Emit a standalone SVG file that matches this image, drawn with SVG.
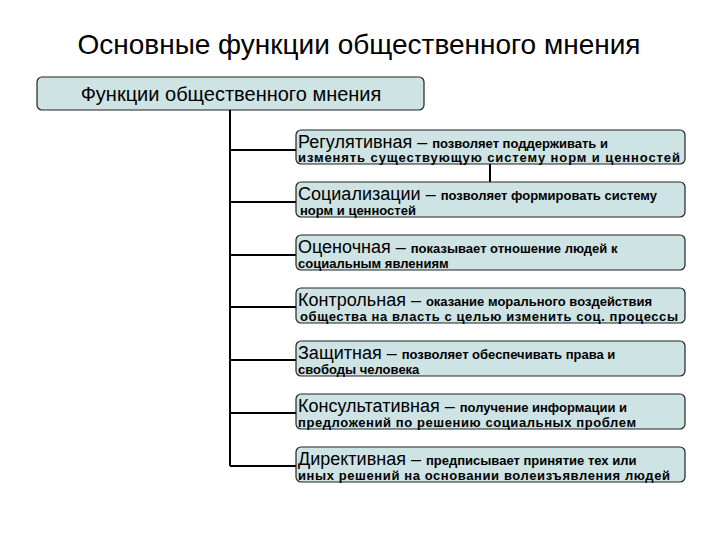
<svg xmlns="http://www.w3.org/2000/svg" width="720" height="540" viewBox="0 0 720 540">
<style>
.box{fill:#cde3e4;stroke:#222;stroke-width:1.2}
.t{font-family:"Liberation Sans",Arial,sans-serif;fill:#000}
.h{font-size:18px}
.s{font-size:13px;font-weight:bold}
.ln{stroke:#000;stroke-width:2;fill:none}
</style>
<rect width="720" height="540" fill="#fff"/>
<text class="t" x="359" y="54" font-size="28" text-anchor="middle">Основные функции общественного мнения</text>
<g id="root"><rect class="box" x="37" y="77" width="387" height="33" rx="5"/>
<text class="t" x="231" y="101" font-size="20" text-anchor="middle">Функции общественного мнения</text></g>
<g id="connectors">
<path class="ln" d="M230 110V466M230 150H296M230 202H296M230 255H296M230 307H296M230 360H296M230 413H296M230 466H296M490 164V182"/>
</g>
<g id="n1"><rect class="box" x="296" y="130" width="389" height="34" rx="5"/>
<text class="t" x="298" y="148"><tspan class="h">Регулятивная – </tspan><tspan class="s">позволяет поддерживать и</tspan></text>
<text class="t s" x="298" y="162" textLength="382">изменять существующую систему норм и ценностей</text></g>
<g id="n2"><rect class="box" x="296" y="182" width="389" height="35" rx="5"/>
<text class="t" x="298" y="200"><tspan class="h">Социализации – </tspan><tspan class="s">позволяет формировать систему</tspan></text>
<text class="t s" x="300" y="215">норм и ценностей</text></g>
<g id="n3"><rect class="box" x="296" y="235" width="389" height="35" rx="5"/>
<text class="t" x="298" y="253"><tspan class="h">Оценочная – </tspan><tspan class="s">показывает отношение людей к</tspan></text>
<text class="t s" x="298" y="268">социальным явлениям</text></g>
<g id="n4"><rect class="box" x="296" y="288" width="389" height="35" rx="5"/>
<text class="t" x="298" y="306"><tspan class="h">Контрольная – </tspan><tspan class="s">оказание морального воздействия</tspan></text>
<text class="t s" x="300" y="321" textLength="378">общества на власть с целью изменить соц. процессы</text></g>
<g id="n5"><rect class="box" x="296" y="341" width="389" height="35" rx="5"/>
<text class="t" x="298" y="359"><tspan class="h">Защитная – </tspan><tspan class="s">позволяет обеспечивать права и</tspan></text>
<text class="t s" x="298" y="374">свободы человека</text></g>
<g id="n6"><rect class="box" x="296" y="394" width="389" height="35" rx="5"/>
<text class="t" x="298" y="412"><tspan class="h">Консультативная – </tspan><tspan class="s">получение информации и</tspan></text>
<text class="t s" x="298" y="427" textLength="338">предложений по решению социальных проблем</text></g>
<g id="n7"><rect class="box" x="296" y="447" width="389" height="35" rx="5"/>
<text class="t" x="298" y="465"><tspan class="h">Директивная – </tspan><tspan class="s">предписывает принятие тех или</tspan></text>
<text class="t s" x="298" y="480" textLength="372">иных решений на основании волеизъявления людей</text></g>
</svg>
